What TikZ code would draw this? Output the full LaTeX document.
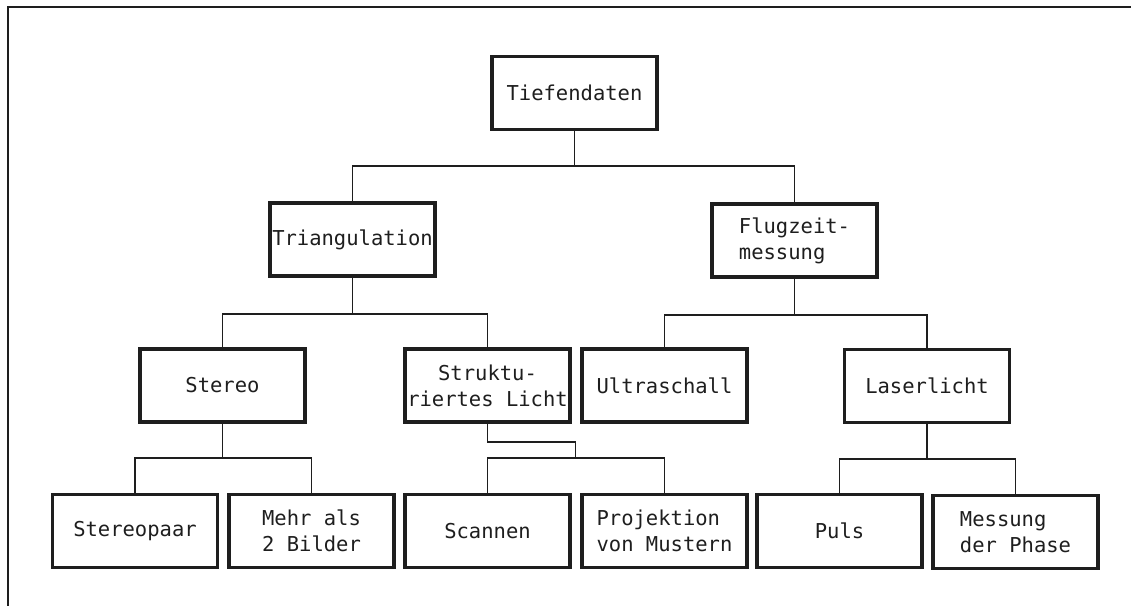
\documentclass[tikz,border=0pt]{standalone}
\usepackage{fontspec}
\setmonofont{DejaVu Sans Mono}
\definecolor{ink}{HTML}{1E1E1E}
\begin{document}
\begin{tikzpicture}[x=1pt,y=-1pt,
  box/.style={draw=ink, line width=3.2pt, minimum width=165pt, minimum height=73pt,
    inner sep=0pt, font=\fontsize{20.5}{26}\selectfont\ttfamily, align=center, text=ink},
  lbox/.style={box, align=left},
  conn/.style={draw=ink, line width=1.4pt}]
\useasboundingbox (0,0) rectangle (1131,605);
\draw[ink, line width=2pt] (8,615) -- (8,7) -- (1140,7);

\node[box] (tief) at (574.5,93) {Tiefendaten};
\node[box] (tri) at (352.5,239.5) {Triangulation};
\node[lbox] (flug) at (794.5,240.5) {Flugzeit-\\messung};
\node[box] (ster) at (222.5,385.5) {Stereo};
\node[box] (struk) at (487.5,385.5) {Struktu-\\riertes Licht};
\node[box] (ultra) at (664.5,385.5) {Ultraschall};
\node[box] (laser) at (927,386) {Laserlicht};
\node[box] (spaar) at (135,531) {Stereopaar};
\node[lbox] (mehr) at (311.5,531) {Mehr als\\2 Bilder};
\node[box] (scan) at (487.5,531) {Scannen};
\node[lbox] (proj) at (664.5,531) {Projektion\\von Mustern};
\node[box] (puls) at (839.5,531) {Puls};
\node[lbox] (mess) at (1015.5,532) {Messung\\der Phase};

\coordinate (j1) at (574.5,166);
\coordinate (j2) at (352.5,314);
\coordinate (j3) at (794.5,315);
\coordinate (j4) at (222.5,458);
\coordinate (j5a) at (487.5,442);
\coordinate (j5) at (575.5,458);
\coordinate (j6) at (927,459);

\draw[conn] (tief.south) -- (j1);
\draw[conn] (tri.north) |- (j1) -| (flug.north);
\draw[conn] (tri.south) -- (j2);
\draw[conn] (ster.north) |- (j2) -| (struk.north);
\draw[conn] (flug.south) -- (j3);
\draw[conn] (ultra.north) |- (j3) -| (laser.north);
\draw[conn] (ster.south) -- (j4);
\draw[conn] (spaar.north) |- (j4) -| (mehr.north);
\draw[conn] (struk.south) -- (j5a) -| (j5);
\draw[conn] (scan.north) |- (j5) -| (proj.north);
\draw[conn] (laser.south) -- (j6);
\draw[conn] (puls.north) |- (j6) -| (mess.north);
\end{tikzpicture}
\end{document}
